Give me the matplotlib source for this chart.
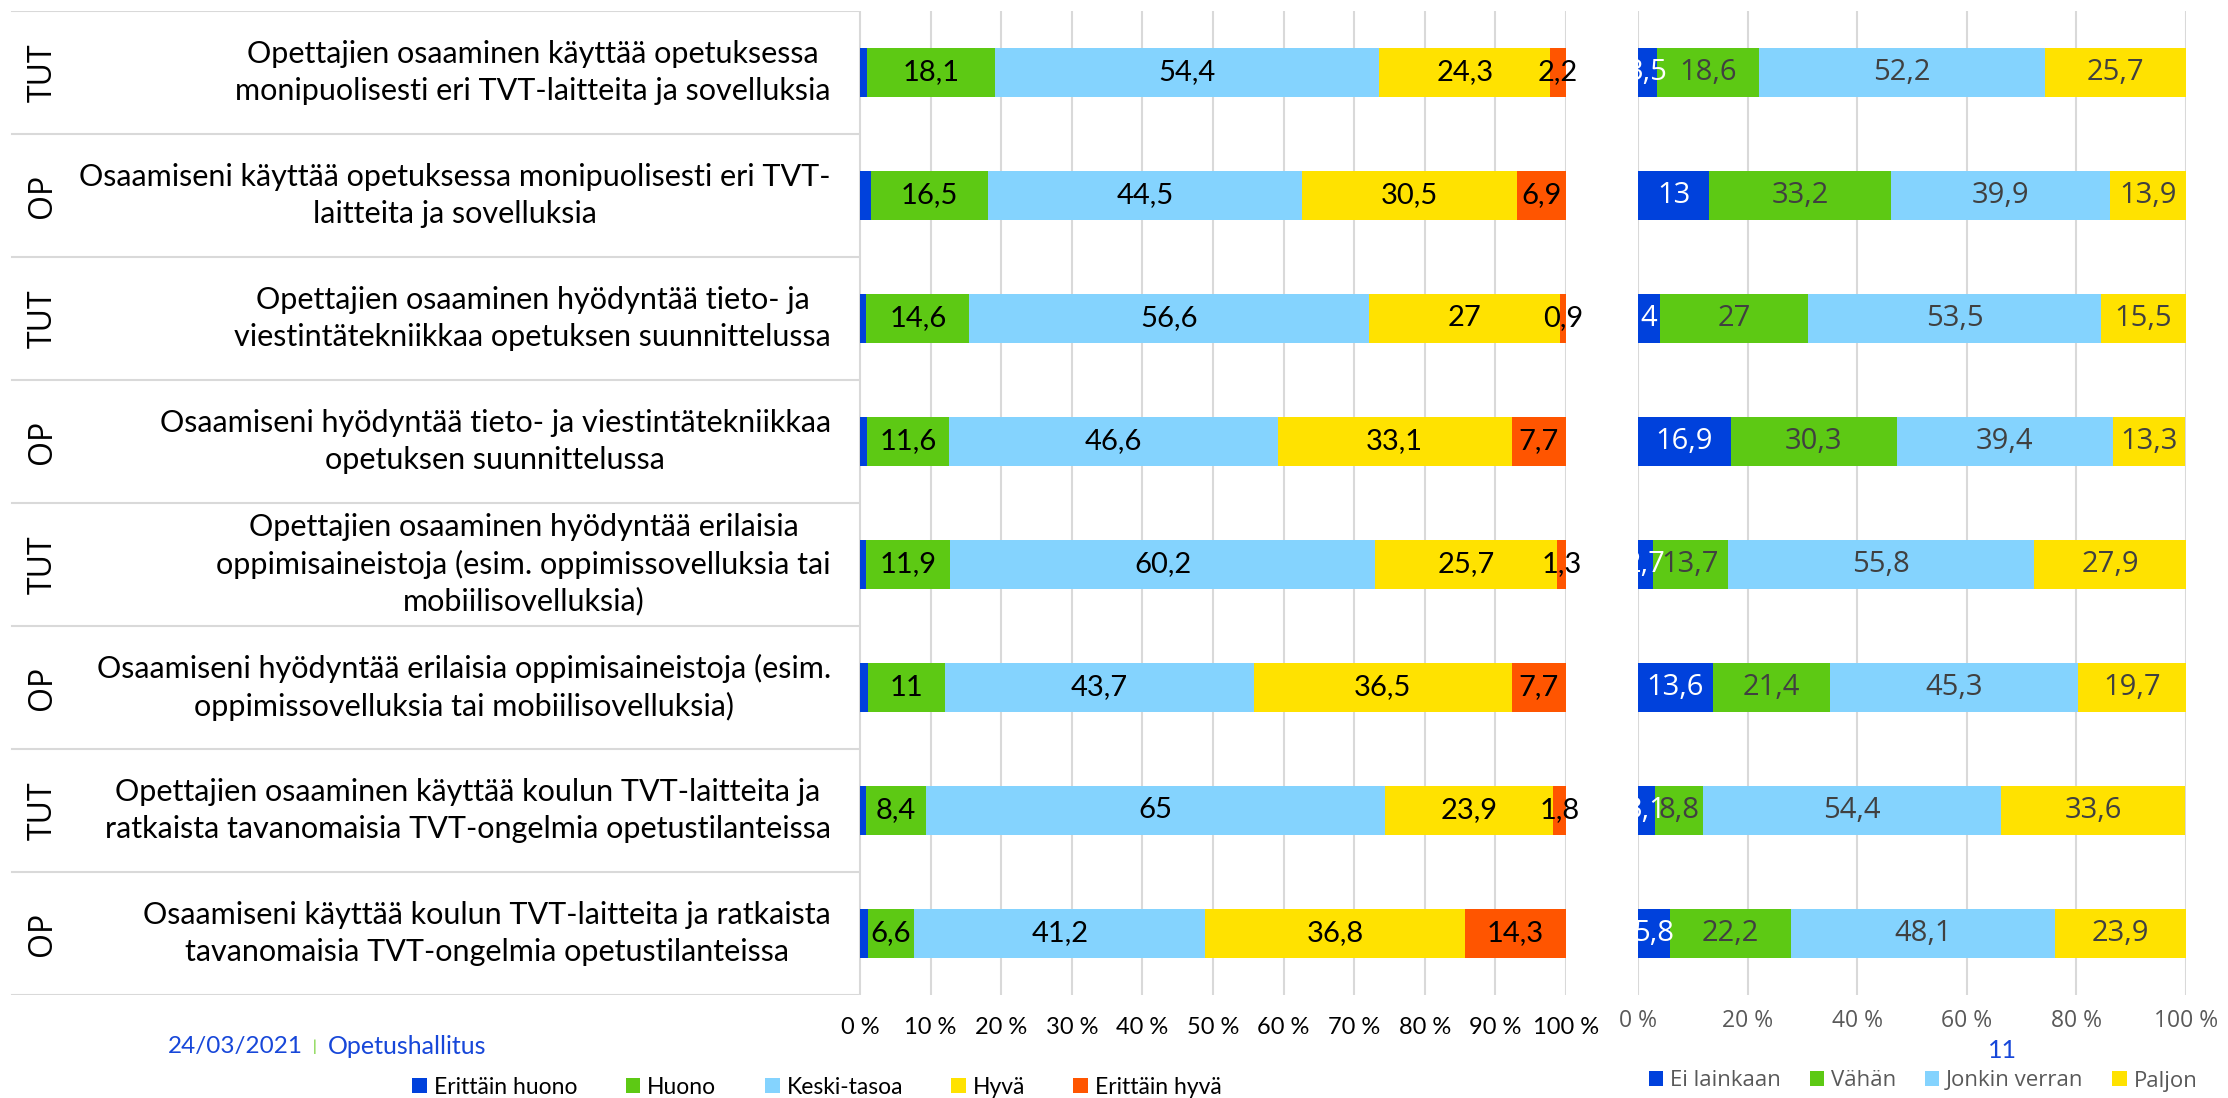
import numpy as np
import matplotlib
matplotlib.use('Agg')
import matplotlib.pyplot as plt
from matplotlib import font_manager
from matplotlib.patches import Patch

installed = {f.name for f in font_manager.fontManager.ttflist}


def pick(*names):
    for n in names:
        if n in installed:
            return n
    return 'DejaVu Sans'


NARROW = pick('Liberation Sans Narrow', 'Lato')
WIDE = pick('Open Sans', 'Noto Sans')

# --- data -------------------------------------------------------------
groups = ['TUT', 'OP', 'TUT', 'OP', 'TUT', 'OP', 'TUT', 'OP']
statements = [
    'Opettajien osaaminen käyttää opetuksessa\nmonipuolisesti eri TVT-laitteita ja sovelluksia',
    'Osaamiseni käyttää opetuksessa monipuolisesti eri TVT-\nlaitteita ja sovelluksia',
    'Opettajien osaaminen hyödyntää tieto- ja\nviestintätekniikkaa opetuksen suunnittelussa',
    'Osaamiseni hyödyntää tieto- ja viestintätekniikkaa\nopetuksen suunnittelussa',
    'Opettajien osaaminen hyödyntää erilaisia\noppimisaineistoja (esim. oppimissovelluksia tai\nmobiilisovelluksia)',
    'Osaamiseni hyödyntää erilaisia oppimisaineistoja (esim.\noppimissovelluksia tai mobiilisovelluksia)',
    'Opettajien osaaminen käyttää koulun TVT-laitteita ja\nratkaista tavanomaisia TVT-ongelmia opetustilanteissa',
    'Osaamiseni käyttää koulun TVT-laitteita ja ratkaista\ntavanomaisia TVT-ongelmia opetustilanteissa',
]

# skill level (left chart)
skill_names = ['Erittäin huono', 'Huono', 'Keski-tasoa', 'Hyvä', 'Erittäin hyvä']
erittain_huono = [1.0, 1.6, 0.9, 1.0, 0.9, 1.1, 0.9, 1.1]
huono = [18.1, 16.5, 14.6, 11.6, 11.9, 11.0, 8.4, 6.6]
keski_tasoa = [54.4, 44.5, 56.6, 46.6, 60.2, 43.7, 65.0, 41.2]
hyva = [24.3, 30.5, 27.0, 33.1, 25.7, 36.5, 23.9, 36.8]
erittain_hyva = [2.2, 6.9, 0.9, 7.7, 1.3, 7.7, 1.8, 14.3]

# need for training (right chart)
need_names = ['Ei lainkaan', 'Vähän', 'Jonkin verran', 'Paljon']
ei_lainkaan = [3.5, 13.0, 4.0, 16.9, 2.7, 13.6, 3.1, 5.8]
vahan = [18.6, 33.2, 27.0, 30.3, 13.7, 21.4, 8.8, 22.2]
jonkin_verran = [52.2, 39.9, 53.5, 39.4, 55.8, 45.3, 54.4, 48.1]
paljon = [25.7, 13.9, 15.5, 13.3, 27.9, 19.7, 33.6, 23.9]

left_ticks = list(range(0, 101, 10))
right_ticks = list(range(0, 101, 20))

colors = ['#0041DC', '#5DC914', '#84D3FE', '#FFE200', '#FF5500']
GRID = '#D9D9D9'
FOOT_BLUE = '#1747D9'


def fmt(v):
    return f'{v:g}'.replace('.', ',')


# --- layout -----------------------------------------------------------
W, H = 2228, 1098
fig = plt.figure(figsize=(W / 100, H / 100), dpi=100)
top, bottom = 11, 995
yb, hh = 1 - bottom / H, (bottom - top) / H

ax_tab = fig.add_axes([7 / W, yb, (860 - 7) / W, hh])
ax_l = fig.add_axes([860 / W, yb, (1566 - 860) / W, hh])
ax_r = fig.add_axes([1638 / W, yb, (2186 - 1638) / W, hh])

ypos = np.arange(len(groups))

# label table on the left
ax_tab.set_xlim(0, 1)
ax_tab.set_ylim(len(groups) - 0.5, -0.5)
ax_tab.axis('off')
for b in np.arange(-0.5, len(groups), 1.0):
    ax_tab.axhline(b, xmin=0.006, xmax=1, color=GRID, lw=1.5)
ax_tab.axvline(1, color=GRID, lw=1.5)
for i, (g, s) in enumerate(zip(groups, statements)):
    ax_tab.text(0.042, i, g, rotation=90, ha='center', va='center',
                fontsize=23, family=WIDE, color='black')
    ax_tab.text(0.966, i, s, ha='right', va='center', multialignment='center',
                fontsize=22, family=NARROW, color='black', linespacing=1.35)


def stacked(ax, series, label_from, label_colors, clip):
    left = np.zeros(len(groups))
    for k, vals in enumerate(series):
        vals = np.asarray(vals)
        bars = ax.barh(ypos, vals, left=left, height=0.4, color=colors[k],
                       zorder=2)
        if k >= label_from:
            for rect, v in zip(bars, vals):
                cx = rect.get_x() + rect.get_width() / 2
                cy = rect.get_y() + rect.get_height() / 2
                ax.text(cx, cy, fmt(v), ha='center', va='center',
                        color=label_colors[k], clip_on=clip, zorder=3,
                        **label_font)
        left += vals


# left chart
label_font = dict(fontsize=21, family=NARROW)
stacked(ax_l, [erittain_huono, huono, keski_tasoa, hyva, erittain_hyva],
        1, ['black'] * 5, False)
ax_l.set_xlim(0, 100)
ax_l.set_ylim(len(groups) - 0.5, -0.5)
ax_l.set_xticks(left_ticks)
ax_l.set_xticklabels([f'{t} %' for t in left_ticks], family=NARROW,
                     fontsize=17, color='black')
ax_l.set_yticks([])
ax_l.tick_params(axis='x', length=0, pad=16)
ax_l.grid(axis='x', color=GRID, lw=1.5, zorder=0)
for sp in ax_l.spines.values():
    sp.set_visible(False)

# right chart
label_font = dict(fontsize=21, family=WIDE)
stacked(ax_r, [ei_lainkaan, vahan, jonkin_verran, paljon],
        0, ['white', '#404040', '#404040', '#404040'], True)
ax_r.set_xlim(0, 100)
ax_r.set_ylim(len(groups) - 0.5, -0.5)
ax_r.set_xticks(right_ticks)
ax_r.set_xticklabels([f'{t} %' for t in right_ticks], family=WIDE,
                     fontsize=16.5, color='#595959')
ax_r.set_yticks([])
ax_r.tick_params(axis='x', length=0, pad=10)
ax_r.grid(axis='x', color=GRID, lw=1.5, zorder=0)
for sp in ax_r.spines.values():
    sp.set_visible(False)

# legends
lh = [Patch(facecolor=c) for c in colors]
fig.legend(lh, skill_names, loc='center', bbox_to_anchor=(817 / W, 1 - 1087 / H),
           ncol=5, frameon=False, prop={'family': NARROW, 'size': 16.5},
           handlelength=0.65, handleheight=0.65, handletextpad=0.3,
           columnspacing=2.1, borderaxespad=0)
rh = [Patch(facecolor=c) for c in colors[:4]]
leg_r = fig.legend(rh, need_names, loc='center',
                   bbox_to_anchor=(1923 / W, 1 - 1081 / H), ncol=4,
                   frameon=False, prop={'family': WIDE, 'size': 16},
                   handlelength=0.65, handleheight=0.65, handletextpad=0.3,
                   columnspacing=1.3, borderaxespad=0)
for t in leg_r.get_texts():
    t.set_color('#595959')

# footer
fig.text(168 / W, 1 - 1047 / H, '24/03/2021', color=FOOT_BLUE, fontsize=17.5,
         family=NARROW, va='center')
fig.text(315 / W, 1 - 1047 / H, '|', color='#5DC914', fontsize=11,
         family=NARROW, va='center', ha='center')
fig.text(328 / W, 1 - 1047 / H, 'Opetushallitus', color=FOOT_BLUE,
         fontsize=18, family=NARROW, va='center')
fig.text(2002 / W, 1 - 1051 / H, '11', color=FOOT_BLUE, fontsize=18,
         family=NARROW, va='center', ha='center')

fig.savefig('out.png', dpi=100)
